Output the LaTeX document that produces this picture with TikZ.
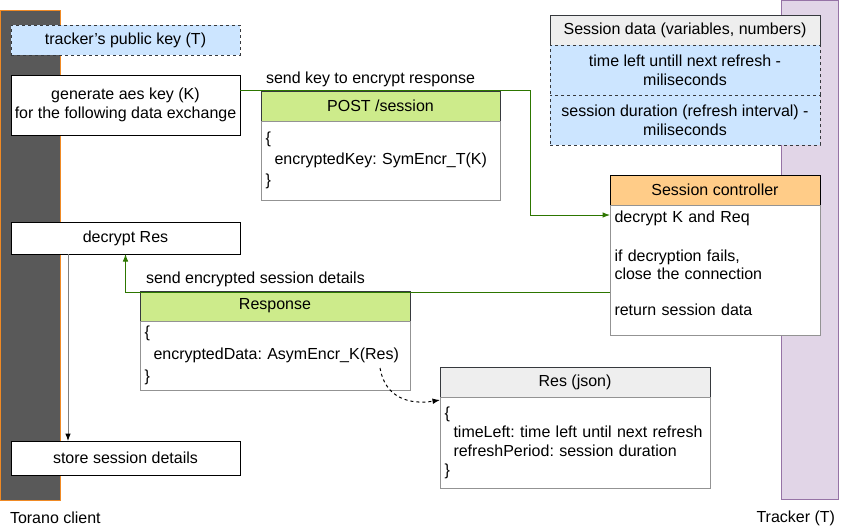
\documentclass[tikz,border=0pt]{standalone}
\usepackage{fontspec}
\setmainfont{Liberation Sans}
\usetikzlibrary{arrows.meta,calc,positioning}
\definecolor{linegray}{HTML}{36393D}
\definecolor{bodygray}{HTML}{939393}
\definecolor{keyblue}{HTML}{CCE5FF}
\definecolor{msggreen}{HTML}{CDEB8B}
\definecolor{flowgreen}{HTML}{2D7600}
\definecolor{hdrgray}{HTML}{EEEEEE}
\definecolor{ctrlorange}{HTML}{FFCC88}
\definecolor{clientgray}{HTML}{595959}
\definecolor{clientorange}{HTML}{F08A24}
\definecolor{trackerfill}{HTML}{E1D5E7}
\definecolor{trackerline}{HTML}{9673A6}
\frenchspacing

\begin{document}
\begin{tikzpicture}[x=1pt,y=-1pt,>=Latex,line width=1pt,
  every node/.style={font=\fontsize{16}{19}\selectfont,outer sep=0pt},
  actbox/.style={draw=black,fill=white,anchor=north west,minimum width=229pt,align=center},
  hdr/.style={draw=linegray,anchor=north west,minimum height=30pt},
  bdy/.style={draw=bodygray,fill=white,align=left,inner xsep=4.5pt},
  datarow/.style={draw=linegray,dashed,fill=keyblue,align=center},
  flow/.style={draw=flowgreen,->},
  lbl/.style={inner sep=0pt}]
\useasboundingbox (0,0) rectangle (841,531);
% lifelines
\node[draw=clientorange,fill=clientgray,anchor=north west,minimum width=60pt,minimum height=490pt] (client) at (0,10) {};
\node[draw=trackerline,fill=trackerfill,anchor=north west,minimum width=57pt,minimum height=499pt] (tracker) at (781,0) {};
\node[lbl,anchor=west] (clientlbl) at (10,518) {Torano client};
\node[lbl,anchor=east] (trackerlbl) at (835,518) {Tracker (T)};
% client steps
\node[actbox,draw=linegray,dashed,fill=keyblue,minimum height=30pt] (pubkey) at (11,25) {tracker's public key (T)};
\node[actbox,minimum height=60pt] (genkey) at (11,75) {generate aes key (K)\\for the following data exchange};
\node[actbox,minimum height=32pt] (decres) at (11,222) {decrypt Res};
\node[actbox,minimum height=34pt] (store) at (11,441) {store session details};
% request
\node[hdr,fill=msggreen,minimum width=239pt] (posthdr) at (261,91) {POST /session};
\node[bdy,text width=230pt,minimum height=79pt,below=0pt of posthdr,font=\fontsize{16}{21}\selectfont] (postbody)
  {\{\\\hspace*{9pt}encryptedKey: SymEncr\_T(K)\\\}};
% session data
\node[hdr,fill=hdrgray,minimum width=270pt] (sdhdr) at (550,15) {Session data (variables, numbers)};
\node[datarow,minimum width=270pt,minimum height=50pt,below=0pt of sdhdr] (sdleft) {time left untill next refresh -\\miliseconds};
\node[datarow,minimum width=270pt,minimum height=50pt,below=0pt of sdleft] (sdperiod) {session duration (refresh interval) -\\miliseconds};
% controller
\node[hdr,draw=black,fill=ctrlorange,minimum width=210pt] (schdr) at (610,175) {Session controller};
\node[bdy,text width=201pt,minimum height=130pt,below=0pt of schdr,font=\fontsize{16}{18}\selectfont] (scbody)
  {decrypt K and Req\\[21pt]if decryption fails,\\close the connection\\[18pt]return session data\\[-4pt]\mbox{}};
% response
\node[hdr,fill=msggreen,minimum width=270pt] (resphdr) at (140,291) {Response};
\node[bdy,text width=261pt,minimum height=69pt,below=0pt of resphdr,font=\fontsize{16}{22}\selectfont] (respbody)
  {\{\\\hspace*{9pt}encryptedData: AsymEncr\_K(Res)\\\}};
\node[hdr,fill=hdrgray,minimum width=270pt] (jsonhdr) at (440,367) {Res (json)};
\node[bdy,text width=261pt,minimum height=91pt,below=0pt of jsonhdr] (jsonbody)
  {\{\\\hspace*{9pt}timeLeft: time left until next refresh\\\hspace*{9pt}refreshPeriod: session duration\\\}};
% messages
\draw[flow] ([yshift=15pt]genkey.east) -- ++(290,0) |- ([yshift=-10pt]scbody.north west);
\node[lbl,anchor=south west] (keylbl) at ([xshift=5pt,yshift=4pt]posthdr.north west) {send key to encrypt response};
\draw[flow] ([yshift=-87pt]scbody.north west) -| (decres.south);
\node[lbl,anchor=south west] (resplbl) at ([xshift=6pt,yshift=4pt]resphdr.north west) {send encrypted session details};
\draw[draw=gray,-{Latex[color=black]}] ([xshift=57pt]decres.south west) -- ([xshift=57pt]store.north west);
\coordinate (encdata) at ([xshift=-30pt,yshift=22pt]respbody.south east);
\draw[dash pattern=on 3pt off 3pt,-{Latex[color=black]}] (encdata) .. controls +(5,30) and +(-30,5) .. ([yshift=-3pt]jsonbody.north west);
\end{tikzpicture}
\end{document}
